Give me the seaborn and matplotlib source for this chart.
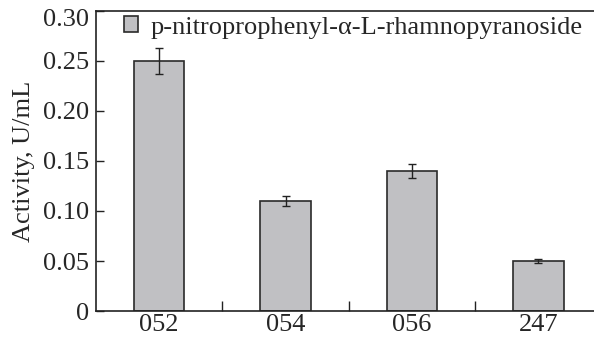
import matplotlib
matplotlib.use("Agg")
import matplotlib.pyplot as plt
import matplotlib.transforms as mtransforms
import seaborn as sns
import pandas as pd
import numpy as np

categories = ["052", "054", "056", "247"]
activity = [0.25, 0.11, 0.14, 0.05]
errors = [0.013, 0.005, 0.007, 0.002]
series_name = "p-nitroprophenyl-α-L-rhamnopyranoside"
yticks = [0, 0.05, 0.10, 0.15, 0.20, 0.25, 0.30]
ytick_labels = ["0", "0.05", "0.10", "0.15", "0.20", "0.25", "0.30"]

sns.set_style("white")
plt.rcParams['font.family'] = ['Liberation Serif', 'DejaVu Serif']

df = pd.DataFrame({"strain": categories, "activity": activity, "series": series_name})

fig = plt.figure(figsize=(5.94, 3.39), dpi=100)
ax = fig.add_axes([96/594, 1 - 311/339, 1 - 96/594, 300/339])

sns.barplot(data=df, x="strain", y="activity", hue="series", ax=ax,
            palette=["#bfc0c4"], width=0.40,
            edgecolor="#2a2a2a", linewidth=1.2, errorbar=None)
ax.errorbar(np.arange(len(categories)), activity, yerr=errors, fmt="none",
            ecolor="#222222", elinewidth=1.0, capsize=3, capthick=1.0)

ax.set_ylim(0, 0.30)
ax.set_xlim(-0.5, -0.5 + 498/126.4)
ax.set_yticks(yticks)
ax.set_yticklabels(ytick_labels)
ax.tick_params(axis="y", direction="in", length=6, width=1, labelsize=19, pad=5, left=True, color="#222222")
ax.set_xticks(np.arange(len(categories)))
ax.set_xticklabels(categories)
ax.tick_params(axis="x", which="major", length=0, labelsize=19, pad=2)
ax.set_xticks([0.5, 1.5, 2.5], minor=True)
ax.tick_params(axis="x", which="minor", direction="in", length=7, width=1, bottom=True, color="#222222")

# top label sits slightly below its tick in the reference
top_lbl = ax.get_yticklabels()[-1]
top_lbl.set_transform(top_lbl.get_transform() +
                      mtransforms.ScaledTranslation(0, -7/100, fig.dpi_scale_trans))

ax.set_xlabel("")
ax.set_ylabel("Activity, U/mL", fontsize=19, labelpad=6)

for s in ["left", "bottom", "top"]:
    ax.spines[s].set_visible(True)
    ax.spines[s].set_color("#222222")
    ax.spines[s].set_linewidth(1.2)
ax.spines["right"].set_visible(False)

leg = ax.legend(loc="upper left", frameon=False, fontsize=19, handlelength=0.55,
                handleheight=0.55, handletextpad=0.45, borderaxespad=0.0,
                borderpad=0.2, bbox_to_anchor=(0.045, 1.0))

fig.savefig("out.png", dpi=100)
